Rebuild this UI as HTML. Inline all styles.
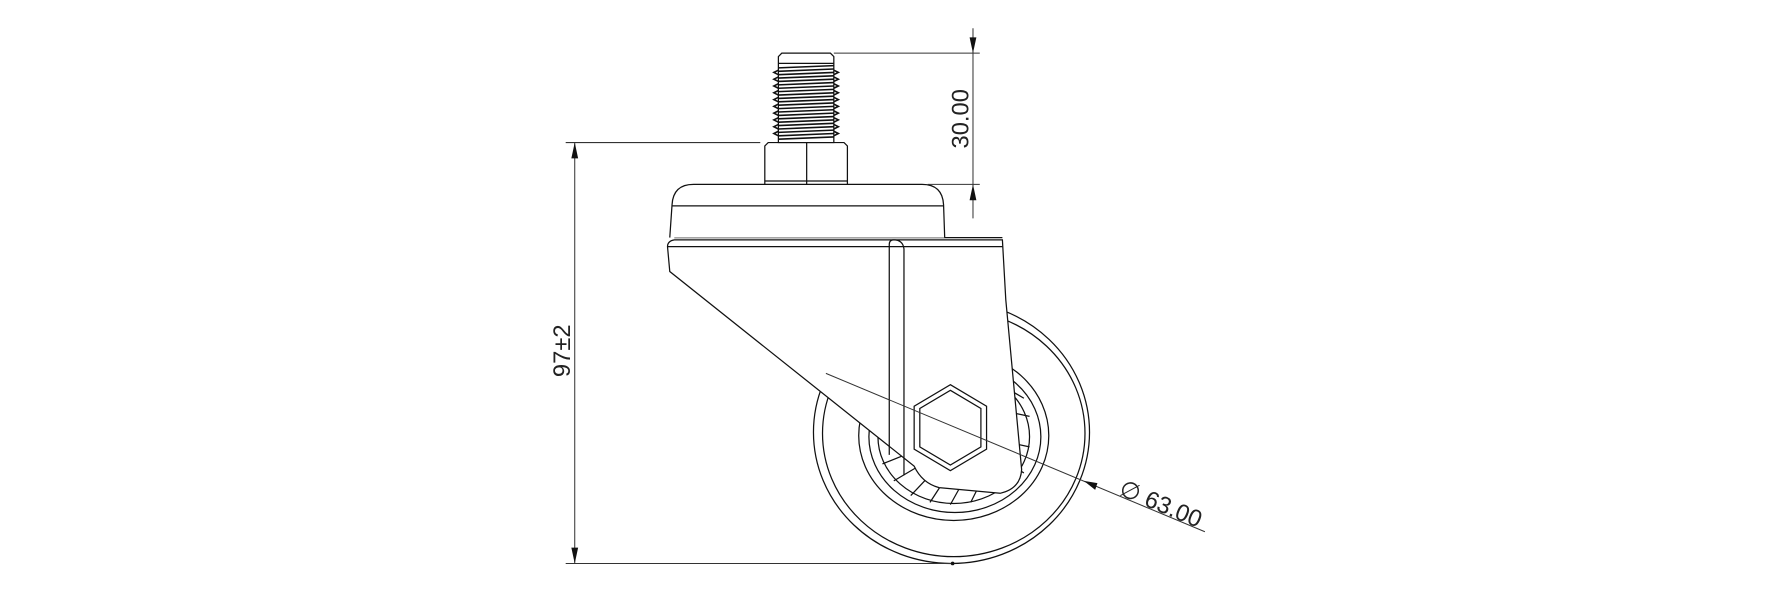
<!DOCTYPE html>
<html><head><meta charset="utf-8"><style>
html,body{margin:0;padding:0;background:#fff;}
svg{display:block;}
text{font-family:"Liberation Sans",sans-serif;fill:#222;}
</style></head><body>
<svg width="1774" height="594" viewBox="0 0 1568 525" preserveAspectRatio="none" xmlns="http://www.w3.org/2000/svg">
<g fill="none" stroke="#111" stroke-width="1.1">
<!-- wheel -->
<ellipse cx="841" cy="382" rx="122" ry="116"/>
<ellipse cx="843" cy="383" rx="116" ry="109"/>
<ellipse cx="843" cy="385" rx="84" ry="75"/>
<ellipse cx="844" cy="386" rx="76" ry="67"/>
<ellipse cx="843" cy="386" rx="67" ry="59"/>
<!-- spokes -->
<path d="M780,410 L800,402 M790,425 L812,412 M805,438 L822,420 M822,444 L835,424 M840,446 L850,428 M858,444 L866,428 M893,345 L905,352 M896,365 L910,368 M896,392 L910,395 M892,410 L905,418"/>
<!-- bracket -->
<path fill="#fff" d="M590,218 Q590,213 596,212 L886,212 L889,265 L903,415 Q902,432 884,436 L830,431 Q815,427 808,412 L592,240 Z"/>
<path d="M590,218 L886,218"/>
<path d="M596,210 L886,210"/>
<path d="M786,402 L786,216 Q786,212 790,212 Q798,212 799,220 L799,420"/>
<!-- hex -->
<polygon points="840,340 872,359 872,397 840,416 808,397 808,359"/>
<polygon points="840,345 867,361 867,395 840,411 813,395 813,361"/>
<!-- top plate -->
<path fill="#fff" d="M592,210 L594,181 Q595,163 613,163 L815,163 Q833,163 834,181 L835,210"/>
<path d="M594,182 L834,182"/>
<!-- nut -->
<path fill="#fff" d="M676,163 L676,129 L679,126 L746,126 L749,129 L749,163 Z"/>
<path d="M676,160 L749,160 M713,126 L713,163"/>
<!-- thread -->
<path fill="#fff" d="M688,126 L688,50 L691,47 L734,47 L737,50 L737,126 Z"/>
<path d="M688,56 L737,56"/>
<g stroke-width="1.4">
<path d="M688,62 L684,64 L688,66 M737,62 L741,64 L737,66 M688,68 L684,70 L688,72 M737,68 L741,70 L737,72 M688,74 L684,76 L688,78 M737,74 L741,76 L737,78 M688,80 L684,82 L688,84 M737,80 L741,82 L737,84 M688,86 L684,88 L688,90 M737,86 L741,88 L737,90 M688,92 L684,94 L688,96 M737,92 L741,94 L737,96 M688,98 L684,100 L688,102 M737,98 L741,100 L737,102 M688,104 L684,106 L688,108 M737,104 L741,106 L737,108 M688,110 L684,112 L688,114 M737,110 L741,112 L737,114 M688,116 L684,118 L688,120 M737,116 L741,118 L737,120"/>
<path d="M688,60 L737,58 M688,63 L737,61 M688,66 L737,64 M688,69 L737,67 M688,72 L737,70 M688,75 L737,73 M688,78 L737,76 M688,81 L737,79 M688,84 L737,82 M688,87 L737,85 M688,90 L737,88 M688,93 L737,91 M688,96 L737,94 M688,99 L737,97 M688,102 L737,100 M688,105 L737,103 M688,108 L737,106 M688,111 L737,109 M688,114 L737,112 M688,117 L737,115 M688,120 L737,118 M688,123 L737,121"/>
</g>
</g>
<!-- dimensions -->
<g stroke="#333" stroke-width="0.9" fill="none">
<path d="M500,126 L672,126 M500,498 L842,498 M508,126 L508,498"/>
<path d="M737,47 L866,47 M820,163 L866,163 M860,25 L860,193"/>
<path d="M730,330 L1065,470"/>
</g>
<g fill="#111">
<polygon points="508,126 505,140 511,140"/>
<polygon points="508,498 505,484 511,484"/>
<polygon points="860,47 857,33 863,33"/>
<polygon points="860,163 857,177 863,177"/>
<polygon points="958,425 970,427 968,433"/>
<circle cx="842" cy="498" r="1.6"/>
</g>
<text x="0" y="0" font-size="21" text-anchor="middle" transform="translate(504,310) rotate(-90)">97±2</text>
<text x="0" y="0" font-size="21" text-anchor="middle" transform="translate(856,105) rotate(-90)">30.00</text>
<text x="0" y="0" font-size="21" transform="translate(988,437) rotate(22.7)">∅ 63.00</text>
</svg>
</body></html>
